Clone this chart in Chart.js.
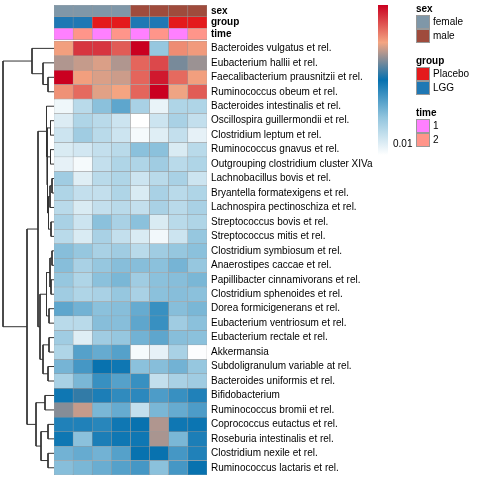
<!DOCTYPE html>
<html>
<head>
<meta charset="utf-8">
<script src="https://cdn.jsdelivr.net/npm/chart.js@4.4.1/dist/chart.umd.min.js"></script>
<style>
  html, body { margin: 0; padding: 0; background: #fff; }
  #wrap { position: relative; width: 480px; height: 480px; }
  #wrap canvas { position: absolute; left: 0; top: 0; }
</style>
</head>
<body>
<div id="wrap">
  <canvas id="heat" width="480" height="480"></canvas>
  <canvas id="tree" width="480" height="480"></canvas>
</div>
<script>
// samples (columns) and their annotations
const samples = ['S1', 'S2', 'S3', 'S4', 'S5', 'S6', 'S7', 'S8'];
const sampleSex = ['female', 'female', 'female', 'female', 'male', 'male', 'male', 'male'];
const sampleGroup = ['LGG', 'LGG', 'Placebo', 'Placebo', 'LGG', 'LGG', 'Placebo', 'Placebo'];
const sampleTime = ['1', '2', '1', '2', '1', '2', '1', '2'];

// rows, in dendrogram order
const taxa = [
    'Bacteroides vulgatus et rel.',
    'Eubacterium hallii et rel.',
    'Faecalibacterium prausnitzii et rel.',
    'Ruminococcus obeum et rel.',
    'Bacteroides intestinalis et rel.',
    'Oscillospira guillermondii et rel.',
    'Clostridium leptum et rel.',
    'Ruminococcus gnavus et rel.',
    'Outgrouping clostridium cluster XIVa',
    'Lachnobacillus bovis et rel.',
    'Bryantella formatexigens et rel.',
    'Lachnospira pectinoschiza et rel.',
    'Streptococcus bovis et rel.',
    'Streptococcus mitis et rel.',
    'Clostridium symbiosum et rel.',
    'Anaerostipes caccae et rel.',
    'Papillibacter cinnamivorans et rel.',
    'Clostridium sphenoides et rel.',
    'Dorea formicigenerans et rel.',
    'Eubacterium ventriosum et rel.',
    'Eubacterium rectale et rel.',
    'Akkermansia',
    'Subdoligranulum variable at rel.',
    'Bacteroides uniformis et rel.',
    'Bifidobacterium',
    'Ruminococcus bromii et rel.',
    'Coprococcus eutactus et rel.',
    'Roseburia intestinalis et rel.',
    'Clostridium nexile et rel.',
    'Ruminococcus lactaris et rel.'
];

// relative abundance, one row per taxon, one column per sample
const abundance = [
    [0.104, 0.126, 0.126, 0.118, 0.137, 0.033, 0.108, 0.105],
    [0.093, 0.096, 0.099, 0.093, 0.116, 0.122, 0.085, 0.090],
    [0.137, 0.104, 0.099, 0.097, 0.116, 0.132, 0.115, 0.104],
    [0.107, 0.115, 0.100, 0.103, 0.116, 0.137, 0.102, 0.118],
    [0.005, 0.022, 0.036, 0.047, 0.027, 0.007, 0.025, 0.025],
    [0.011, 0.025, 0.022, 0.016, 0.000, 0.016, 0.027, 0.019],
    [0.016, 0.030, 0.022, 0.016, 0.003, 0.010, 0.019, 0.008],
    [0.012, 0.014, 0.019, 0.022, 0.036, 0.036, 0.012, 0.022],
    [0.008, 0.003, 0.019, 0.025, 0.025, 0.030, 0.022, 0.025],
    [0.030, 0.010, 0.022, 0.025, 0.016, 0.022, 0.027, 0.016],
    [0.025, 0.019, 0.019, 0.025, 0.012, 0.027, 0.022, 0.025],
    [0.022, 0.012, 0.019, 0.022, 0.019, 0.027, 0.022, 0.027],
    [0.027, 0.016, 0.036, 0.027, 0.036, 0.012, 0.022, 0.025],
    [0.022, 0.012, 0.027, 0.019, 0.012, 0.004, 0.016, 0.033],
    [0.037, 0.033, 0.027, 0.030, 0.022, 0.030, 0.033, 0.036],
    [0.037, 0.027, 0.033, 0.037, 0.037, 0.036, 0.041, 0.033],
    [0.033, 0.025, 0.036, 0.040, 0.030, 0.036, 0.037, 0.040],
    [0.030, 0.025, 0.027, 0.033, 0.027, 0.036, 0.037, 0.036],
    [0.047, 0.042, 0.036, 0.037, 0.045, 0.056, 0.037, 0.040],
    [0.022, 0.022, 0.037, 0.037, 0.047, 0.056, 0.030, 0.036],
    [0.030, 0.010, 0.030, 0.033, 0.042, 0.047, 0.037, 0.036],
    [0.025, 0.049, 0.045, 0.049, 0.003, 0.008, 0.027, 0.001],
    [0.041, 0.053, 0.069, 0.066, 0.036, 0.037, 0.042, 0.033],
    [0.027, 0.040, 0.056, 0.049, 0.056, 0.019, 0.027, 0.030],
    [0.066, 0.075, 0.063, 0.058, 0.059, 0.051, 0.056, 0.062],
    [0.087, 0.096, 0.040, 0.045, 0.019, 0.040, 0.045, 0.051],
    [0.062, 0.062, 0.060, 0.066, 0.069, 0.093, 0.066, 0.067],
    [0.066, 0.036, 0.063, 0.066, 0.066, 0.092, 0.040, 0.063],
    [0.042, 0.045, 0.042, 0.049, 0.069, 0.069, 0.053, 0.062],
    [0.037, 0.040, 0.044, 0.049, 0.053, 0.036, 0.053, 0.069]
];

// row clustering, hclust style: negative = leaf (1-based row), positive = earlier merge
const mergeLeft  = [-3, -2, -1, -6, -8, -10, 6, -13, 7, 5, 4, -5, -15, -17, 13, -19, 15, -21, -23, 18, 17, 12, -25, -27, -29, 24, 23, 22, 3];
const mergeRight = [-4, 1, 2, -7, -9, -11, -12, -14, 8, 9, 10, 11, -16, -18, 14, -20, 16, -22, -24, 19, 20, 21, -26, -28, -30, 25, 26, 27, 28];
const mergeHeight = [6, 11, 22, 3.5, 3.5, 2, 4, 3, 5.5, 6.5, 7, 7.5, 2, 3, 4, 5, 7.5, 5, 6, 11, 14, 16, 9, 6, 6, 13, 18, 27, 51];

// colour scale
const scaleMin = 0;
const scaleMax = 0.137;
const legendBreaks = [0.01];
const palette = ['#ffffff', '#92c5de', '#0571b0', '#f4a582', '#ca0020'];

const annColors = {
    sex: { female: '#7f97a8', male: '#9f4b3c' },
    group: { Placebo: '#e41a1c', LGG: '#1f78b4' },
    time: { '1': '#ff80ff', '2': '#ff958a' }
};

const FONT = "'Liberation Sans', Arial, Helvetica, sans-serif";
Chart.defaults.font.family = FONT;
Chart.defaults.font.size = 10;
Chart.defaults.color = '#000';

function hexToRgb(h) {
    const n = parseInt(h.slice(1), 16);
    return [n >> 16 & 255, n >> 8 & 255, n & 255];
}

function colorFor(v) {
    let f = (v - scaleMin) / (scaleMax - scaleMin);
    f = Math.max(0, Math.min(1, f));
    const seg = f * (palette.length - 1);
    const i = Math.min(Math.floor(seg), palette.length - 2);
    const t = seg - i;
    const a = hexToRgb(palette[i]), b = hexToRgb(palette[i + 1]);
    return 'rgb(' + a.map((c, k) => Math.round(c + (b[k] - c) * t)).join(',') + ')';
}

// vertical units: annotation rows, small gap, then one unit per taxon
const annH = 0.8;
const gapH = 0.1;
const annRows = [['sex', sampleSex], ['group', sampleGroup], ['time', sampleTime]];
const rowTop = annRows.length * annH + gapH;
const totalH = rowTop + taxa.length;

const cellStyle = { borderColor: '#999999', borderWidth: 0.5, borderSkipped: false };

const datasets = [];
annRows.forEach(([key, vals]) => {
    datasets.push(Object.assign({
        label: key,
        data: samples.map(() => annH),
        backgroundColor: vals.map(v => annColors[key][v])
    }, cellStyle));
});
datasets.push({ label: 'gap', data: samples.map(() => gapH), backgroundColor: 'rgba(0,0,0,0)', borderWidth: 0 });
taxa.forEach((t, i) => {
    datasets.push(Object.assign({
        label: t,
        data: samples.map(() => 1),
        backgroundColor: abundance[i].map(colorFor)
    }, cellStyle));
});

const tickPos = annRows.map((r, i) => i * annH + annH / 2).concat(taxa.map((t, i) => rowTop + i + 0.5));
const tickText = annRows.map(r => r[0]).concat(taxa);

const sideLegend = {
    id: 'sideLegend',
    afterDraw(chart) {
        const ctx = chart.ctx;
        ctx.save();
        // colour key
        const bx = 378, by = 5, bw = 10, bh = 150;
        const grad = ctx.createLinearGradient(0, by + bh, 0, by);
        palette.forEach((c, i) => grad.addColorStop(i / (palette.length - 1), c));
        ctx.fillStyle = grad;
        ctx.fillRect(bx, by, bw, bh);
        ctx.fillStyle = '#000';
        ctx.font = '10px ' + FONT;
        ctx.textBaseline = 'middle';
        ctx.textAlign = 'left';
        legendBreaks.forEach(b => {
            const y = by + bh - (b - scaleMin) / (scaleMax - scaleMin) * bh;
            ctx.fillText(String(b), bx + 15, y);
        });

        // annotation keys
        const lx = 416, sq = 14;
        let y = 4;
        annRows.forEach(([key]) => {
            ctx.font = 'bold 10px ' + FONT;
            ctx.fillStyle = '#000';
            ctx.fillText(key, lx, y + 5);
            y += 11;
            Object.keys(annColors[key]).forEach(level => {
                ctx.fillStyle = annColors[key][level];
                ctx.fillRect(lx, y, sq, sq);
                ctx.strokeStyle = '#999999';
                ctx.lineWidth = 1;
                ctx.strokeRect(lx + 0.5, y + 0.5, sq - 1, sq - 1);
                ctx.fillStyle = '#000';
                ctx.font = '10px ' + FONT;
                ctx.fillText(level, lx + sq + 3, y + sq / 2);
                y += sq;
            });
            y += 13;
        });
        ctx.restore();
    }
};

new Chart(document.getElementById('heat'), {
    type: 'bar',
    data: { labels: samples, datasets: datasets },
    options: {
        responsive: false,
        animation: false,
        layout: { padding: { left: 54, right: 3, top: 5, bottom: 5 } },
        categoryPercentage: 1,
        barPercentage: 1,
        plugins: { legend: { display: false }, tooltip: { enabled: false } },
        scales: {
            x: { stacked: true, display: false },
            y: {
                stacked: true,
                position: 'right',
                reverse: true,
                min: 0,
                max: totalH,
                grid: { display: false, drawTicks: false },
                border: { display: false },
                afterBuildTicks: axis => { axis.ticks = tickPos.map(v => ({ value: v })); },
                afterFit: axis => { axis.width = 270; axis.paddingTop = 0; axis.paddingBottom = 0; },
                ticks: {
                    autoSkip: false,
                    padding: 4,
                    color: '#000',
                    font: c => (c.index < annRows.length ? { weight: 'bold', size: 10 } : { size: 10 }),
                    callback: (v, i) => tickText[i]
                }
            }
        }
    },
    plugins: [sideLegend]
});

// dendrogram: node positions follow hclust merges
const nodeY = [], nodeH = [];
function childPos(id) {
    if (id < 0) return { y: rowTop + (-id - 1) + 0.5, h: 0 };
    return { y: nodeY[id - 1], h: nodeH[id - 1] };
}
const treeSets = mergeHeight.map((h, k) => {
    const a = childPos(mergeLeft[k]);
    const b = childPos(mergeRight[k]);
    nodeY[k] = (a.y + b.y) / 2;
    nodeH[k] = h;
    return {
        data: [{ x: a.h, y: a.y }, { x: h, y: a.y }, { x: h, y: b.y }, { x: b.h, y: b.y }],
        showLine: true,
        borderColor: '#333333',
        borderWidth: 1,
        pointRadius: 0,
        tension: 0,
        clip: false
    };
});

new Chart(document.getElementById('tree'), {
    type: 'scatter',
    data: { datasets: treeSets },
    options: {
        responsive: false,
        animation: false,
        layout: { padding: { left: 3, right: 426, top: 5, bottom: 5 } },
        plugins: { legend: { display: false }, tooltip: { enabled: false } },
        scales: {
            x: { type: 'linear', display: false, reverse: true, min: 0, max: Math.max(...mergeHeight) },
            y: { type: 'linear', display: false, reverse: true, min: 0, max: totalH }
        }
    }
});
</script>
</body>
</html>
